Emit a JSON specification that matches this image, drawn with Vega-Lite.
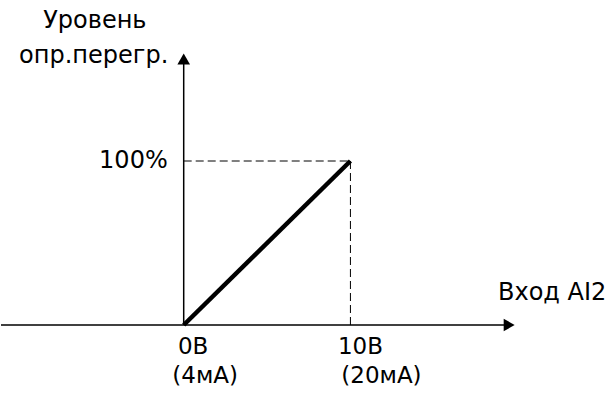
{
  "$schema": "https://vega.github.io/schema/vega-lite/v6.json",
  "width": 616,
  "height": 398,
  "padding": 0,
  "autosize": {"type": "fit", "contains": "padding"},
  "background": "white",
  "config": {"view": {"stroke": null}},
  "encoding": {
    "x": {"field": "x", "type": "quantitative", "scale": {"domain": [-10.958, 25.928], "nice": false, "zero": false}, "axis": null},
    "y": {"field": "y", "type": "quantitative", "scale": {"domain": [-44.51, 198.17], "nice": false, "zero": false}, "axis": null}
  },
  "layer": [
    {
      "data": {"values": [
        {"x": -10.958, "x2": 19.6, "y": 0, "y2": 0},
        {"x": 0, "x2": 0, "y": 0, "y2": 161}
      ]},
      "mark": {"type": "rule", "color": "black", "strokeWidth": 1.5},
      "encoding": {"x2": {"field": "x2"}, "y2": {"field": "y2"}}
    },
    {
      "data": {"values": [
        {"x": 0, "x2": 10, "y": 100, "y2": 100},
        {"x": 10, "x2": 10, "y": 0, "y2": 100}
      ]},
      "mark": {"type": "rule", "color": "black", "strokeWidth": 1, "strokeDash": [8, 4]},
      "encoding": {"x2": {"field": "x2"}, "y2": {"field": "y2"}}
    },
    {
      "data": {"values": [{"x": 0, "y": 0}, {"x": 10, "y": 100}]},
      "mark": {"type": "line", "color": "black", "strokeWidth": 4.5},
      "encoding": {}
    },
    {
      "data": {"values": [{"x": 19.52, "y": 0}]},
      "mark": {"type": "point", "shape": "triangle-right", "filled": true, "color": "black", "opacity": 1, "size": 160},
      "encoding": {}
    },
    {
      "data": {"values": [{"x": 0, "y": 162.2}]},
      "mark": {"type": "point", "shape": "triangle-up", "filled": true, "color": "black", "opacity": 1, "size": 160},
      "encoding": {}
    },
    {
      "data": {"values": [
        {"x": -5.33, "y": 180.9, "label": "Уровень"},
        {"x": -5.4, "y": 159.8, "label": "опр.перегр."},
        {"x": 22.1, "y": 15.2, "label": "Вход AI2"}
      ]},
      "mark": {"type": "text", "align": "center", "baseline": "alphabetic", "font": "DejaVu Sans", "fontSize": 24, "color": "black"},
      "encoding": {"text": {"field": "label"}}
    },
    {
      "data": {"values": [
        {"x": 0.569, "y": -17.68, "label": "0В"},
        {"x": 1.287, "y": -35.37, "label": "(4мА)"},
        {"x": 10.6, "y": -17.68, "label": "10В"},
        {"x": 11.86, "y": -35.37, "label": "(20мА)"}
      ]},
      "mark": {"type": "text", "align": "center", "baseline": "alphabetic", "font": "DejaVu Sans", "fontSize": 23, "color": "black"},
      "encoding": {"text": {"field": "label"}}
    },
    {
      "data": {"values": [
        {"x": -0.958, "y": 95.9, "label": "100%"}
      ]},
      "mark": {"type": "text", "align": "right", "baseline": "alphabetic", "font": "DejaVu Sans", "fontSize": 24, "color": "black"},
      "encoding": {"text": {"field": "label"}}
    }
  ]
}
